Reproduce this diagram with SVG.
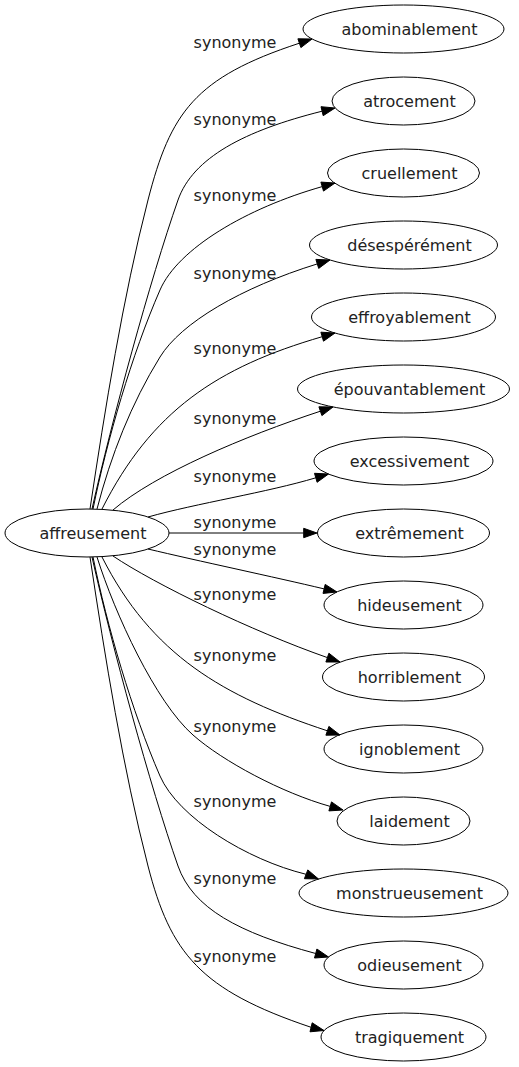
<svg xmlns="http://www.w3.org/2000/svg" width="519" height="1067" viewBox="0 0 519 1067">
<style>
.n ellipse{fill:none;stroke:#000;stroke-width:1}
text{font-family:"DejaVu Sans","Liberation Sans",sans-serif;font-size:16px;fill:#222;text-anchor:middle}
.e path{fill:none;stroke:#000;stroke-width:1}
.e polygon{fill:#000;stroke:#000;stroke-width:1}
</style>
<rect width="519" height="1067" fill="#fff"/>
<g id="connectors" class="e">
<g id="e1"><path d="M90,509 C105,409 123,297 148,200 C170.5,112.7 194.5,77.6 299.4,43.2"/><polygon points="312,39 300.9,47.6 297.9,38.8"/><text x="235" y="48">synonyme</text></g>
<g id="e2"><path d="M92,509 C112,420 150,280 178,200 C192.9,157.7 244.5,130.6 322.1,111.2"/><polygon points="335,108 323.2,115.7 321,106.7"/><text x="235" y="125">synonyme</text></g>
<g id="e3"><path d="M93,509 C107,440 132,354 160,290 C178,248.6 246.2,208.2 322.2,186.6"/><polygon points="335,183 323.5,191.1 320.9,182.1"/><text x="235" y="201">synonyme</text></g>
<g id="e4"><path d="M97,509 C110.8,455.6 131.4,403.2 160,357 C180.8,323 240.9,287.6 317.3,263.9"/><polygon points="330,260 318.7,268.4 315.9,259.4"/><text x="235" y="279">synonyme</text></g>
<g id="e5"><path d="M102,509 C151.5,411.1 216.7,367.3 322.2,336.7"/><polygon points="335,333 323.5,341.2 320.9,332.2"/><text x="235" y="354">synonyme</text></g>
<g id="e6"><path d="M113,510 C155,474 244.4,436.2 320.4,411.2"/><polygon points="333,407 321.9,415.6 318.9,406.8"/><text x="235" y="424">synonyme</text></g>
<g id="e7"><path d="M148,517 C196,503.5 267.9,492.2 315.8,477.8"/><polygon points="328.5,474 317.1,482.3 314.5,473.3"/><text x="235" y="482">synonyme</text></g>
<g id="e8"><path d="M169,533 L303.7,533"/><polygon points="317,533 303.7,537.7 303.7,528.3"/><text x="235" y="528">synonyme</text></g>
<g id="e9"><path d="M148,549 C196,560.5 276,577.4 324.1,588.9"/><polygon points="337,592 323,593.4 325.2,584.4"/><text x="235" y="555">synonyme</text></g>
<g id="e10"><path d="M113,556 C154.5,584 251.9,631.2 327.4,657.6"/><polygon points="340,662 325.9,662 328.9,653.2"/><text x="235" y="600">synonyme</text></g>
<g id="e11"><path d="M102,557 C151.5,654.9 222.9,696.4 327.4,730.8"/><polygon points="340,735 325.9,735.2 328.9,726.4"/><text x="235" y="661">synonyme</text></g>
<g id="e12"><path d="M97,557 C115,614 155.5,702 193,735 C223,761.4 282,792.9 330.2,806.4"/><polygon points="343,810 328.9,810.9 331.5,801.9"/><text x="235" y="732">synonyme</text></g>
<g id="e13"><path d="M93,557 C107,626 132,711.6 160,776 C178,817.4 246.7,859.8 306.1,874.3"/><polygon points="318.5,879 304.4,878.7 307.8,869.9"/><text x="235" y="807">synonyme</text></g>
<g id="e14"><path d="M92,557 C112,646 150,786 178,866 C192.9,908.3 238.5,932.7 315.7,953.5"/><polygon points="328.5,957 314.5,958 316.9,949"/><text x="235" y="884">synonyme</text></g>
<g id="e15"><path d="M90,557 C105,657 123,769 148,866 C170.5,953.3 200,990 311.1,1027.3"/><polygon points="324,1030.5 310,1031.8 312.2,1022.8"/><text x="235" y="962">synonyme</text></g>
</g>
<g id="affreusement" class="n"><ellipse cx="87" cy="533" rx="82" ry="24"/><text x="93" y="539">affreusement</text></g>
<g id="abominablement" class="n"><ellipse cx="403.5" cy="29" rx="100.5" ry="24"/><text x="409.5" y="35">abominablement</text></g>
<g id="atrocement" class="n"><ellipse cx="403.5" cy="101" rx="71.5" ry="24"/><text x="409.5" y="107">atrocement</text></g>
<g id="cruellement" class="n"><ellipse cx="403.5" cy="173" rx="76" ry="24"/><text x="409.5" y="179">cruellement</text></g>
<g id="desesperement" class="n"><ellipse cx="403.5" cy="245" rx="94" ry="24"/><text x="409.5" y="251">désespérément</text></g>
<g id="effroyablement" class="n"><ellipse cx="403.5" cy="317" rx="92" ry="24"/><text x="409.5" y="323">effroyablement</text></g>
<g id="epouvantablement" class="n"><ellipse cx="403.5" cy="389" rx="106" ry="24"/><text x="409.5" y="395">épouvantablement</text></g>
<g id="excessivement" class="n"><ellipse cx="403.5" cy="461" rx="89.5" ry="24"/><text x="409.5" y="467">excessivement</text></g>
<g id="extremement" class="n"><ellipse cx="403.5" cy="533" rx="86" ry="24"/><text x="409.5" y="539">extrêmement</text></g>
<g id="hideusement" class="n"><ellipse cx="403.5" cy="605" rx="79.5" ry="24"/><text x="409.5" y="611">hideusement</text></g>
<g id="horriblement" class="n"><ellipse cx="403.5" cy="677" rx="81" ry="24"/><text x="409.5" y="683">horriblement</text></g>
<g id="ignoblement" class="n"><ellipse cx="403.5" cy="749" rx="79.5" ry="24"/><text x="409.5" y="755">ignoblement</text></g>
<g id="laidement" class="n"><ellipse cx="403.5" cy="821" rx="66.5" ry="24"/><text x="409.5" y="827">laidement</text></g>
<g id="monstrueusement" class="n"><ellipse cx="403.5" cy="893" rx="104.5" ry="24"/><text x="409.5" y="899">monstrueusement</text></g>
<g id="odieusement" class="n"><ellipse cx="403.5" cy="965" rx="79.5" ry="24"/><text x="409.5" y="971">odieusement</text></g>
<g id="tragiquement" class="n"><ellipse cx="403.5" cy="1037" rx="82.5" ry="24"/><text x="409.5" y="1043">tragiquement</text></g>
</svg>
